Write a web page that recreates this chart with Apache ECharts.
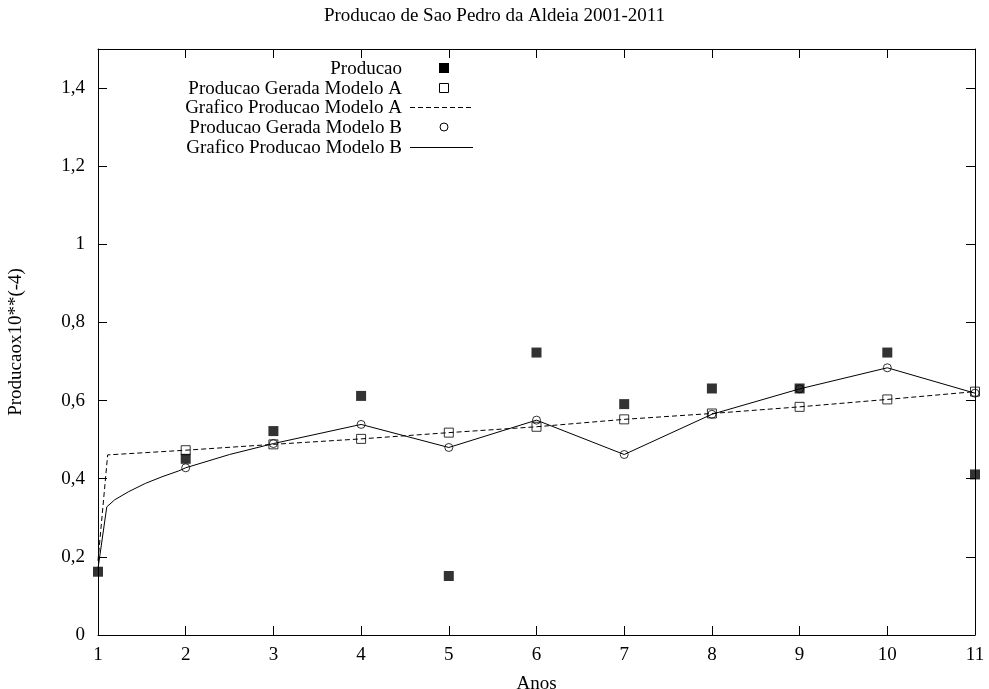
<!DOCTYPE html>
<html>
<head>
<meta charset="utf-8">
<script src="https://cdn.jsdelivr.net/npm/echarts@6/dist/echarts.min.js"></script>
<style>html,body{margin:0;padding:0;background:#fff}#c{width:989px;height:689px}</style>
</head>
<body>
<div id="c"></div>
<script>
// Data
var anos = [1, 2, 3, 4, 5, 6, 7, 8, 9, 10, 11];
var producao = [0.162, 0.451, 0.522, 0.612, 0.151, 0.723, 0.591, 0.631, 0.631, 0.723, 0.411];
var anosModelo = [2, 3, 4, 5, 6, 7, 8, 9, 10, 11];
var geradaA = [0.473, 0.488, 0.502, 0.518, 0.533, 0.552, 0.567, 0.584, 0.603, 0.623];
var geradaB = [0.428, 0.490, 0.539, 0.480, 0.550, 0.462, 0.565, 0.630, 0.684, 0.619];
var curvaAX = [1, 1.11, 2, 3, 4, 5, 6, 7, 8, 9, 10, 11];
var curvaAY = [0.19, 0.461, 0.473, 0.488, 0.502, 0.518, 0.533, 0.552, 0.567, 0.584, 0.603, 0.623];
var curvaBX = [1, 1.1, 1.19, 1.35, 1.54, 1.73, 1.92, 2, 2.5, 3, 4, 5, 6, 7, 8, 9, 10, 11];
var curvaBY = [0.17, 0.328, 0.346, 0.367, 0.388, 0.405, 0.42, 0.428, 0.462, 0.490, 0.539, 0.480, 0.550, 0.462, 0.565, 0.630, 0.684, 0.619];
var names = ['Producao', 'Producao Gerada Modelo A', 'Grafico Producao Modelo A', 'Producao Gerada Modelo B', 'Grafico Producao Modelo B'];

function pairs(xs, ys) { return xs.map(function (x, i) { return [x, ys[i]]; }); }

var FONT = '"Liberation Serif", "DejaVu Serif", serif';
var FS = 19;

// Legend (key) drawn as graphic elements: text right-aligned, sample on the right
var keyTextRight = 402, keyMarkX = 444, keyLine0 = 410, keyLine1 = 473;
var keyRows = [68, 88, 107, 127, 147];
var keyGraphics = [];
names.forEach(function (n, i) {
  keyGraphics.push({
    type: 'text', x: keyTextRight, y: keyRows[i] + 1,
    style: { text: n, fill: '#000', font: FS + 'px ' + FONT, textAlign: 'right', textVerticalAlign: 'middle' }
  });
});
keyGraphics.push({ type: 'rect', shape: { x: keyMarkX - 5, y: keyRows[0] - 5, width: 10, height: 10 }, style: { fill: '#000' } });
keyGraphics.push({ type: 'rect', shape: { x: keyMarkX - 4.5, y: keyRows[1] - 4.5, width: 9, height: 9 }, style: { fill: 'none', stroke: '#000', lineWidth: 1 } });
keyGraphics.push({ type: 'line', shape: { x1: keyLine0, y1: keyRows[2] + 0.5, x2: keyLine1, y2: keyRows[2] + 0.5 }, style: { stroke: '#000', lineWidth: 1, lineDash: [5, 3] } });
keyGraphics.push({ type: 'circle', shape: { cx: keyMarkX, cy: keyRows[3], r: 4 }, style: { fill: 'none', stroke: '#000', lineWidth: 1 } });
keyGraphics.push({ type: 'line', shape: { x1: keyLine0, y1: keyRows[4] + 0.5, x2: keyLine1, y2: keyRows[4] + 0.5 }, style: { stroke: '#000', lineWidth: 1 } });

var option = {
  animation: false,
  backgroundColor: '#fff',
  title: {
    text: 'Producao de Sao Pedro da Aldeia 2001-2011',
    left: 'center',
    top: 7,
    padding: 0,
    textStyle: { fontFamily: FONT, fontSize: FS, fontWeight: 'normal', color: '#000' }
  },
  graphic: keyGraphics,
  grid: { left: 98, right: 14, top: 49, bottom: 54, containLabel: false, outerBoundsMode: 'none' },
  xAxis: [{
    type: 'value', min: 1, max: 11, interval: 1, position: 'bottom',
    name: 'Anos', nameLocation: 'middle', nameGap: 40,
    nameTextStyle: { fontFamily: FONT, fontSize: FS, color: '#000' },
    axisLine: { show: true, onZero: false, lineStyle: { color: '#000', width: 1 } },
    axisTick: { show: true, inside: true, length: 9, lineStyle: { color: '#000' } },
    axisLabel: { fontFamily: FONT, fontSize: FS, color: '#000', margin: 11 },
    splitLine: { show: false }
  }, {
    type: 'value', min: 1, max: 11, interval: 1, position: 'top',
    axisLine: { show: true, onZero: false, lineStyle: { color: '#000', width: 1 } },
    axisTick: { show: true, inside: true, length: 9, lineStyle: { color: '#000' } },
    axisLabel: { show: false },
    splitLine: { show: false }
  }],
  yAxis: [{
    type: 'value', min: 0, max: 1.5, interval: 0.2, position: 'left',
    name: 'Producaox10**(-4)', nameLocation: 'middle', nameGap: 72, nameRotate: 90,
    nameTextStyle: { fontFamily: FONT, fontSize: FS, color: '#000' },
    axisLine: { show: true, onZero: false, lineStyle: { color: '#000', width: 1 } },
    axisTick: { show: true, inside: true, length: 9, lineStyle: { color: '#000' } },
    axisLabel: {
      fontFamily: FONT, fontSize: FS, color: '#000', margin: 13, showMaxLabel: false,
      formatter: function (v) { return String(+v.toFixed(1)).replace('.', ','); }
    },
    splitLine: { show: false }
  }, {
    type: 'value', min: 0, max: 1.5, interval: 0.2, position: 'right',
    axisLine: { show: true, onZero: false, lineStyle: { color: '#000', width: 1 } },
    axisTick: { show: true, inside: true, length: 9, lineStyle: { color: '#000' } },
    axisLabel: { show: false },
    splitLine: { show: false }
  }],
  series: [{
    name: names[0], type: 'scatter', clip: false,
    symbol: 'rect', symbolSize: 10,
    itemStyle: { color: '#000' },
    data: pairs(anos, producao), z: 2
  }, {
    name: names[1], type: 'scatter', clip: false,
    symbol: 'rect', symbolSize: 9,
    itemStyle: { color: 'rgba(255,255,255,0)', borderColor: '#000', borderWidth: 1 },
    data: pairs(anosModelo, geradaA), z: 3
  }, {
    name: names[2], type: 'line', clip: false, showSymbol: false, symbol: 'none',
    lineStyle: { color: '#000', width: 1, type: [5, 3] },
    data: pairs(curvaAX, curvaAY), z: 4
  }, {
    name: names[3], type: 'scatter', clip: false,
    symbol: 'circle', symbolSize: 8,
    itemStyle: { color: 'rgba(255,255,255,0)', borderColor: '#000', borderWidth: 1 },
    data: pairs(anosModelo, geradaB), z: 5
  }, {
    name: names[4], type: 'line', clip: false, showSymbol: false, symbol: 'none',
    lineStyle: { color: '#000', width: 1 },
    data: pairs(curvaBX, curvaBY), z: 6
  }]
};

var chart = echarts.init(document.getElementById('c'), null, { renderer: 'canvas' });
chart.setOption(option);
</script>
</body>
</html>
